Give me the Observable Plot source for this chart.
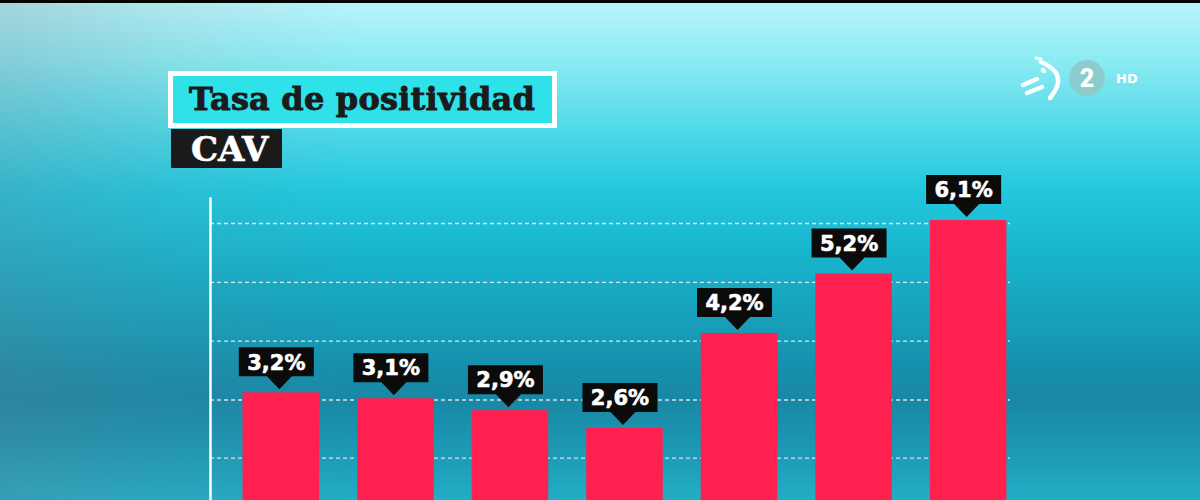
<!DOCTYPE html>
<html>
<head>
<meta charset="utf-8">
<script src="https://cdn.jsdelivr.net/npm/d3@7"></script>
<script src="https://cdn.jsdelivr.net/npm/@observablehq/plot@0.6"></script>
<style>
  html, body { margin: 0; padding: 0; overflow: hidden; background: #000; }
  #stage {
    position: relative; width: 1200px; height: 500px; overflow: hidden;
    background: linear-gradient(to bottom, #baf5fa 0%, #8cebf3 12%, #4fd9e8 26%, #22c8de 38%, #18b3cb 52%, #168fab 74%, #1888a6 80%, #1c99b4 90%, #22aec4 100%);
  }
  #vignette { position: absolute; inset: 0; background: linear-gradient(to right, rgba(110,120,140,0.26) 0%, rgba(110,120,140,0.11) 14%, rgba(110,120,140,0) 30%); }
  #topbar { position: absolute; left: 0; top: 0; width: 1200px; height: 3px; background: #050505; }
  #chart { position: absolute; left: 0; top: 0; }
  #title {
    position: absolute; left: 168px; top: 71px; width: 379px; height: 47px;
    border: 5px solid #fff; background: #2fe2ea;
    font-family: "DejaVu Serif", serif; font-weight: bold; font-size: 32px; color: #1b1b1b;
    line-height: 47px; text-indent: 16px; white-space: nowrap; letter-spacing: 0.2px;
    -webkit-text-stroke: 0.9px #1b1b1b;
  }
  #sub {
    position: absolute; left: 171px; top: 129px; width: 111px; height: 39px; background: #1a1a1a;
    font-family: "DejaVu Serif", serif; font-weight: bold; font-size: 34px; color: #fff;
    line-height: 41px; text-indent: 20px; -webkit-text-stroke: 0.6px #fff;
  }
  #logo { position: absolute; left: 1010px; top: 50px; }
</style>
</head>
<body>
<div id="stage">
  <div id="vignette"></div>
  <div id="topbar"></div>
  <div id="chart"></div>
  <div id="title">Tasa de positividad</div>
  <div id="sub">CAV</div>
  <svg id="logo" width="180" height="60" viewBox="0 0 180 60">
    <g fill="none" stroke="#fff" stroke-linecap="round" stroke-width="4.5">
      <path d="M31 12 Q60 24 40 48"/>
      <path d="M13 35 L27 29"/>
      <path d="M17 43 L32 37"/>
      <path d="M33 20 L34 21"/>
    </g>
    <path d="M26 8 L31 9" stroke="#fff" stroke-width="3" stroke-linecap="round"/>
    <circle cx="77" cy="28" r="18" fill="#8ec9c8" fill-opacity="0.9"/>
    <text x="77" y="37" text-anchor="middle" font-family="Roboto, sans-serif" font-weight="900" font-size="25" fill="#fff">2</text>
    <text x="106" y="33" font-family="DejaVu Sans, sans-serif" font-weight="bold" font-size="13" fill="#fff">HD</text>
  </svg>
</div>
<script>
// ---- data ----
const categories = ["1", "2", "3", "4", "5", "6", "7"];
const values = [3.2, 3.1, 2.9, 2.6, 4.2, 5.2, 6.1];
const gridValues = [2.1, 3.08, 4.07, 5.06, 6.05];

const data = categories.map((c, i) => ({cat: c, value: values[i]}));
const fmt = v => d3.format(".1f")(v).replace(".", ",") + "%";

// callout: black label box with a pointer, anchored at the bar top
const callout = {
  draw(ctx) {
    const tipY = -3.5, boxBottom = -16.5, h = 29, left = -42.5, right = 32.5, tipX = -2, half = 12.5;
    ctx.moveTo(tipX, tipY);
    ctx.lineTo(tipX - half, boxBottom);
    ctx.lineTo(left, boxBottom);
    ctx.lineTo(left, boxBottom - h);
    ctx.lineTo(right, boxBottom - h);
    ctx.lineTo(right, boxBottom);
    ctx.lineTo(tipX + half, boxBottom);
    ctx.closePath();
  }
};

const chart = Plot.plot({
  width: 1200,
  height: 500,
  marginTop: 198,
  marginBottom: 0,
  marginLeft: 210,
  marginRight: 190,
  style: {background: "transparent", overflow: "hidden"},
  x: {domain: categories, axis: null, round: false, paddingInner: 0.332, paddingOuter: 0.158, align: 0.9},
  y: {domain: [0, 7], range: [582.4, 166.6], axis: null},
  marks: [
    Plot.gridY(gridValues, {stroke: "#ffffff", strokeOpacity: 0.8, strokeWidth: 1.4, strokeDasharray: "4,3"}),
    Plot.frame({anchor: "left", stroke: "#ffffff", strokeWidth: 2.5}),
    Plot.barY(data, {x: "cat", y: "value", fill: "#fe214f"}),
    Plot.dot(data, {x: "cat", y: "value", symbol: callout, fill: "#0b0b0b", stroke: null, r: 5}),
    Plot.text(data, {x: "cat", y: "value", text: d => fmt(d.value), dy: -30, dx: -5,
      fill: "#ffffff", fontSize: 21, fontWeight: "bold", fontFamily: "DejaVu Sans, sans-serif",
      stroke: "#ffffff", strokeWidth: 0.6})
  ]
});
document.getElementById("chart").appendChild(chart);
</script>
</body>
</html>
